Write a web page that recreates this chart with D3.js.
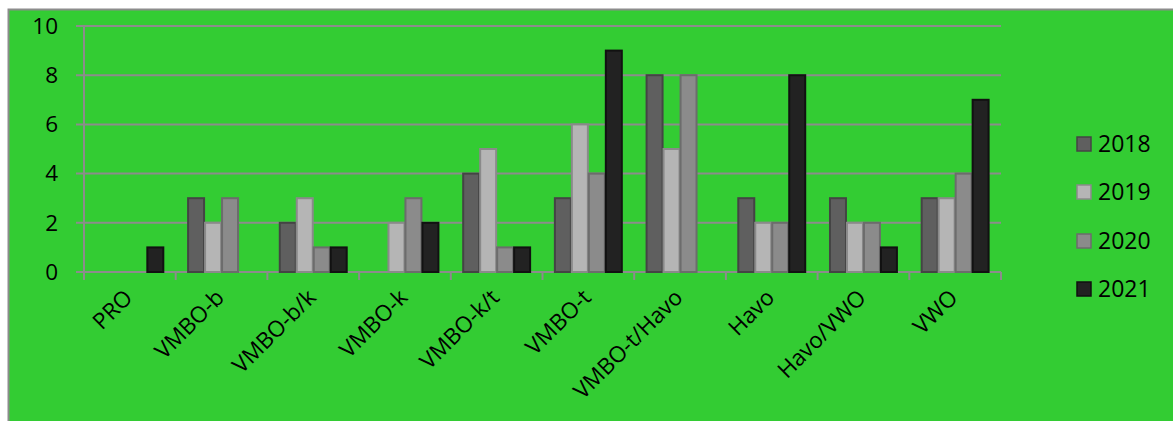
<!DOCTYPE html>
<html><head><meta charset="utf-8">
<script src="https://cdn.jsdelivr.net/npm/d3@7"></script>
<style>html,body{margin:0;padding:0;background:#fff;}svg{display:block;font-family:"Open Sans",Lato,sans-serif;}</style>
</head><body>
<svg id="c" width="1173" height="421"></svg>
<script>
const categories = ["PRO","VMBO-b","VMBO-b/k","VMBO-k","VMBO-k/t","VMBO-t","VMBO-t/Havo","Havo","Havo/VWO","VWO"];
const seriesNames = ["2018","2019","2020","2021"];
const v2018 = [0,3,2,0,4,3,8,3,3,3];
const v2019 = [0,2,3,2,5,6,5,2,2,3];
const v2020 = [0,3,1,3,1,4,8,2,2,4];
const v2021 = [1,0,1,2,1,9,0,8,1,7];
const yTicks = [0,2,4,6,8,10];
const fills = ["#5f5f5f","#b5b5b5","#8b8b8b","#222222"];
const strokes = ["#444444","#8a8a8a","#6c6c6c","#111111"];
const series = [v2018,v2019,v2020,v2021];

(function(){
const svg = d3.select("#c");
svg.append("rect").attr("x",8.5).attr("y",9.5).attr("width",1170).attr("height",420)
  .attr("fill","#33cc33").attr("stroke","#8c8c8c").attr("stroke-width",2);

const pL=84, pR=1001, pT=26, pB=272;
const x = d3.scaleBand().domain(categories).range([pL,pR]).paddingInner(0).paddingOuter(0);
const y = d3.scaleLinear().domain([0,10]).range([pB,pT]);
const inner = d3.scaleBand().domain(seriesNames).range([0,x.bandwidth()]).paddingInner(0).paddingOuter(0.7);

svg.append("g").selectAll("line").data(yTicks).join("line")
  .attr("x1",pL-8).attr("x2",pR).attr("y1",d=>y(d)).attr("y2",d=>y(d))
  .attr("stroke","#8c8c8c").attr("stroke-width",2);
svg.append("line").attr("x1",pL).attr("x2",pL).attr("y1",pT).attr("y2",pB+8)
  .attr("stroke","#8c8c8c").attr("stroke-width",2);
svg.append("g").selectAll("line").data(d3.range(categories.length+1)).join("line")
  .attr("x1",i=>pL+i*x.bandwidth()).attr("x2",i=>pL+i*x.bandwidth())
  .attr("y1",pB).attr("y2",pB+8).attr("stroke","#8c8c8c").attr("stroke-width",2);

svg.append("g").selectAll("text").data(yTicks).join("text")
  .attr("x",58).attr("y",d=>y(d)).attr("dy","0.35em").attr("text-anchor","end")
  .attr("font-size",22.5).attr("fill","#000").text(d=>d);

series.forEach((vals,si)=>{
  svg.append("g").selectAll("rect").data(vals.map((v,i)=>({c:categories[i],v})).filter(d=>d.v>0))
    .join("rect")
    .attr("x",d=>x(d.c)+inner(seriesNames[si])+0.5)
    .attr("y",d=>y(d.v))
    .attr("width",inner.bandwidth()-1)
    .attr("height",d=>y(0)-y(d.v))
    .attr("fill",fills[si]).attr("stroke",strokes[si]).attr("stroke-width",2);
});

svg.append("g").selectAll("text").data(categories).join("text")
  .attr("transform",d=>`translate(${x(d)+x.bandwidth()/2+4},${pB+27}) rotate(-45)`)
  .attr("text-anchor","end").attr("font-size",22.5).attr("fill","#000").text(d=>d);

const legY = [144,192,241,289];
const lg = svg.append("g");
seriesNames.forEach((s,i)=>{
  lg.append("rect").attr("x",1077).attr("y",legY[i]-7).attr("width",14).attr("height",14)
    .attr("fill",fills[i]).attr("stroke",strokes[i]).attr("stroke-width",1.5);
  lg.append("text").attr("x",1098).attr("y",legY[i]).attr("dy","0.35em")
    .attr("font-size",23).attr("fill","#000").text(s);
});
})();
</script>
</body></html>
